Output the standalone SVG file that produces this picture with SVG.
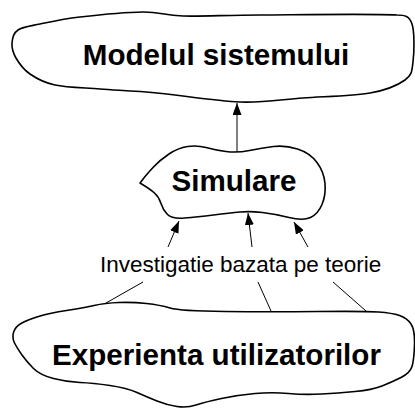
<svg xmlns="http://www.w3.org/2000/svg" width="415" height="410" viewBox="0 0 415 410">
<style>
.blob{fill:#fff;stroke:#000;stroke-width:1.6;stroke-linejoin:round}
.big{font-family:"Liberation Sans",Arial,sans-serif;font-weight:bold;font-size:29.6px;fill:#000;text-anchor:middle}
.lbl{font-family:"Liberation Sans",Arial,sans-serif;font-size:22.5px;fill:#000}
.con{stroke:#000;stroke-width:1;fill:none}
</style>
<defs>
<marker id="ah" markerUnits="userSpaceOnUse" markerWidth="12" markerHeight="9" refX="12" refY="4.5" orient="auto">
<path d="M0,0 L12,4.5 L0,9 Z" fill="#000"/>
</marker>
</defs>
<rect width="415" height="410" fill="#fff"/>
<g id="connectors">
<line class="con" x1="237" y1="152" x2="237" y2="103" marker-end="url(#ah)"/>
<line class="con" x1="168" y1="247" x2="179" y2="221" marker-end="url(#ah)"/>
<line class="con" x1="252" y1="247" x2="248" y2="213" marker-end="url(#ah)"/>
<line class="con" x1="308" y1="247" x2="294" y2="222" marker-end="url(#ah)"/>
<line class="con" x1="143" y1="282" x2="106" y2="303"/>
<line class="con" x1="258" y1="282" x2="271" y2="311"/>
<line class="con" x1="333" y1="282" x2="366" y2="311"/>
</g>
<g id="node-modelul">
<path class="blob" d="M12,43 C12.3,38.3 13.3,33.2 18,30 C22.7,26.8 29.7,26.2 40,24 C50.3,21.8 62.8,19 80,17 C97.2,15 125.8,12.2 143,12 C160.2,11.8 163.5,15.5 183,16 C202.5,16.5 224.3,15.2 260,15 C295.7,14.8 371.7,13.5 397,15 C405,15 409.3,16.2 412,24 C414.7,31.8 414.2,52.7 413,62 C411.8,71.3 412.2,74.8 405,80 C397.8,85.2 387,90 370,93 C353,96 324.7,96.5 303,98 C281.3,99.5 264.3,102.8 240,102 C215.7,101.2 180.3,95.2 157,93 C133.7,90.8 117,90.3 100,89 C83,87.7 66.7,87.5 55,85 C43.3,82.5 36.5,78.5 30,74 C23.5,69.5 19,63.2 16,58 C13,52.8 11.7,47.7 12,43 Z"/>
<text class="big" x="216" y="65">Modelul sistemului</text>
</g>
<g id="node-simulare">
<path class="blob" d="M226,151.5 Q215,150 206,147.5 Q197,145 187.5,146.5 Q178,148 169,154 Q160,160 153.5,167 Q147,174 143.5,178.5 L140,183 Q150,189 154.5,193 Q159,197 161,203.5 Q163,210 167.5,214.5 Q172,219 184.5,218 Q197,217 213.5,215 Q230,213 240,212 Q250,211 262.5,212.5 Q275,214 289,217.5 Q303,221 310.5,217.5 Q318,214 322,204.5 Q326,195 325,183.5 Q324,172 317,162.5 Q310,153 297.5,149 Q285,145 273.5,146.5 Q262,148 249.5,150.5 Q237,153 226,151.5 Z"/>
<text class="big" x="234" y="191">Simulare</text>
</g>
<g id="label">
<text class="lbl" x="100" y="272">Investigatie</text>
<text class="lbl" x="220" y="272">bazata pe teorie</text>
</g>
<g id="node-experienta">
<path class="blob" d="M14.5,343 Q12,338 13.5,332.5 Q15,327 21,323.5 Q27,320 38.5,316.5 Q50,313 66.5,310.5 Q83,308 94,305.5 Q105,303 119,302.5 Q133,302 146.5,303.5 Q160,305 170,308 Q180,311 225,311.5 Q270,312 317.5,311.5 Q365,311 378.5,312 Q392,313 399.5,315.5 Q407,318 411,324 Q415,330 414.5,345 Q414,360 412,366.5 Q410,373 401,377.5 Q392,382 382,386 Q372,390 355,391.5 Q338,393 321.5,394 Q305,395 288.5,393.5 Q272,392 255,393.5 Q238,395 221.5,398.5 Q205,402 196,405 Q187,408 177,406.5 Q167,405 157,401 Q147,397 137,392.5 Q127,388 110,385.5 Q93,383 80,382.5 Q67,382 53.5,378.5 Q40,375 33.5,368.5 Q27,362 22,355 Q17,348 14.5,343 Z"/>
<text class="big" x="216.5" y="365">Experienta utilizatorilor</text>
</g>
</svg>
